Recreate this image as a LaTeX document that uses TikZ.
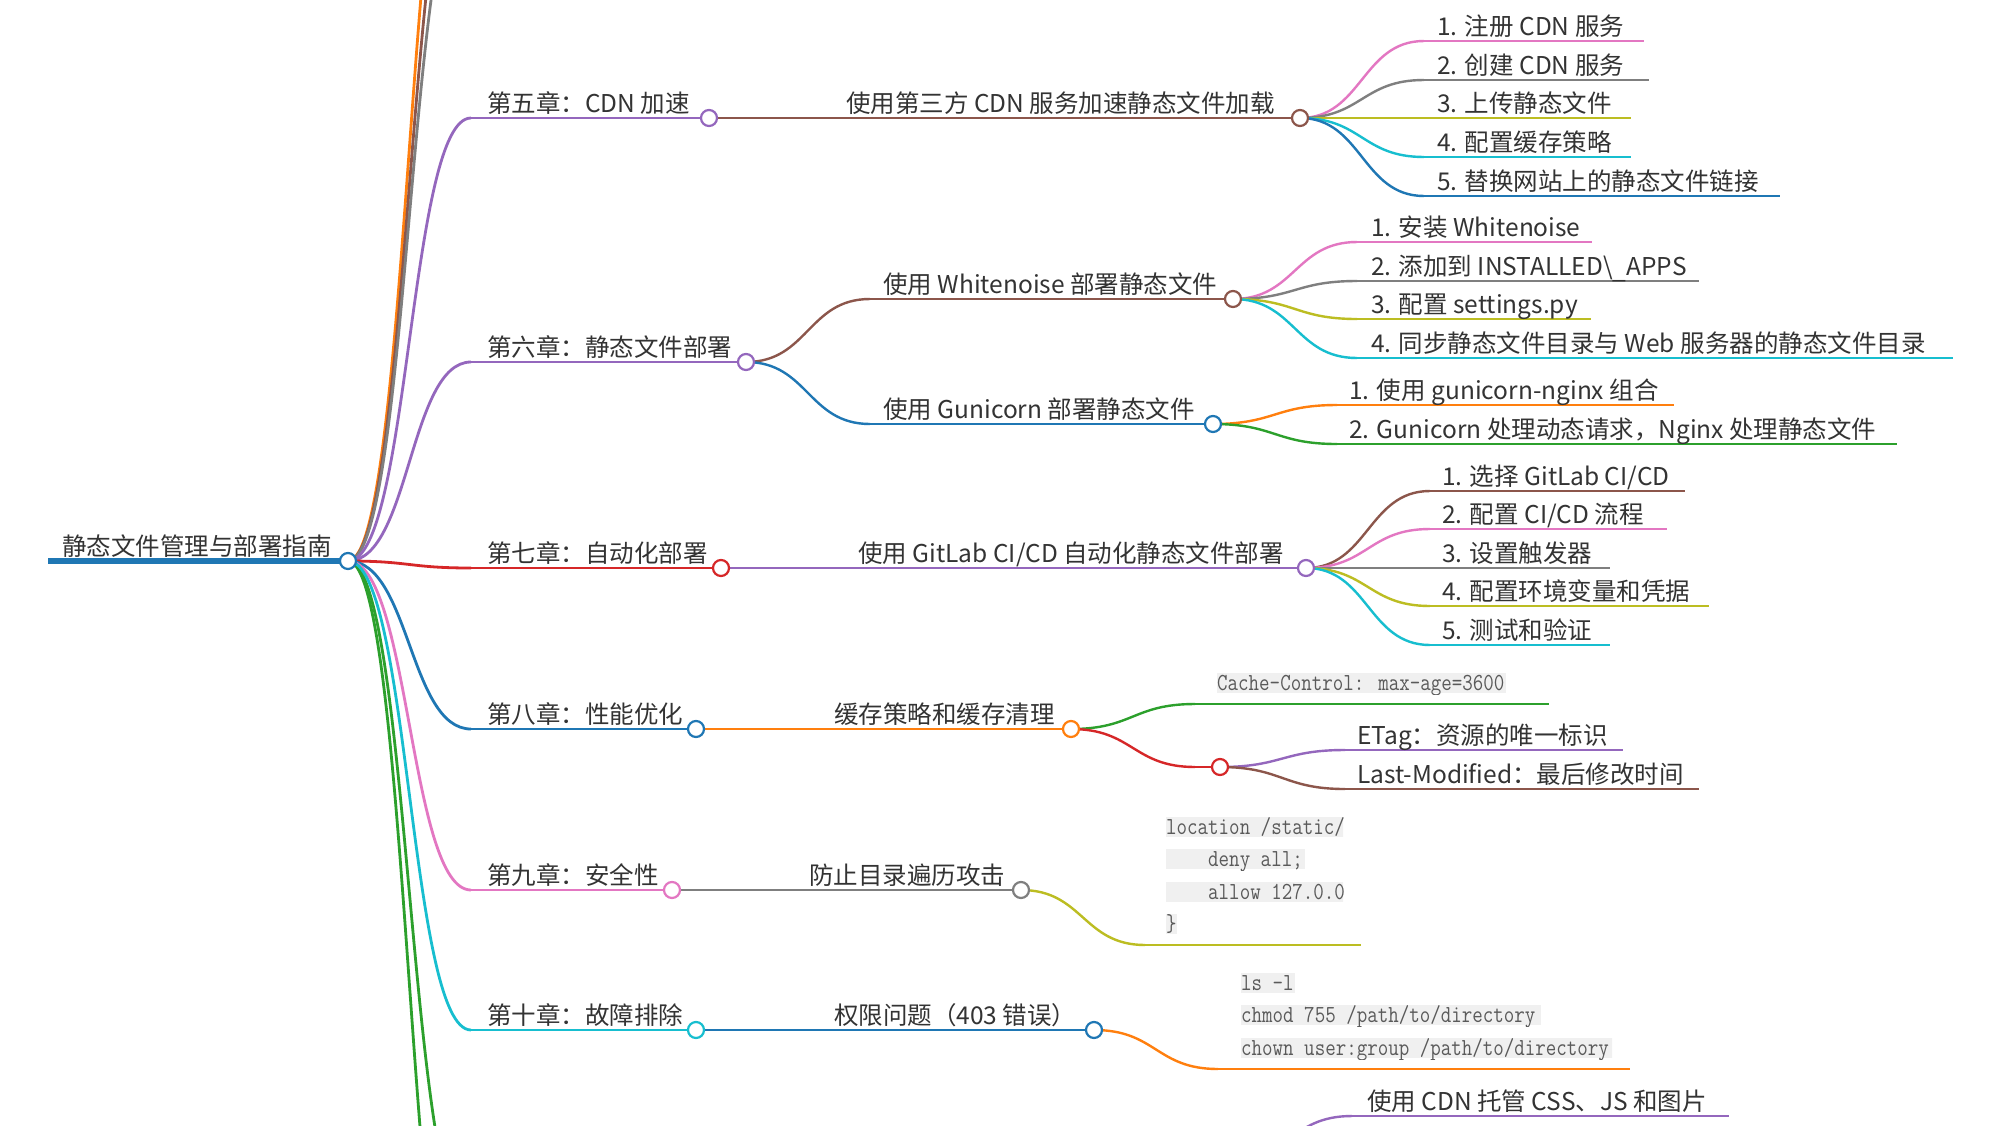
\documentclass[tikz,border=0pt]{standalone}
\usepackage{fontspec}
\usepackage{graphicx}
\setmainfont{Noto Sans CJK SC}
\definecolor{cblue}{HTML}{1F77B4}
\definecolor{corange}{HTML}{FF7F0E}
\definecolor{cgreen}{HTML}{2CA02C}
\definecolor{cred}{HTML}{D62728}
\definecolor{cpurple}{HTML}{9467BD}
\definecolor{cbrown}{HTML}{8C564B}
\definecolor{cpink}{HTML}{E377C2}
\definecolor{cgray}{HTML}{7F7F7F}
\definecolor{colive}{HTML}{BCBD22}
\definecolor{ccyan}{HTML}{17BECF}
\definecolor{txt}{HTML}{333333}
\definecolor{codetxt}{HTML}{5A5A5A}
\definecolor{codebg}{HTML}{F0F0F0}
\newcommand{\mainfs}{\fontsize{24.5}{28}\selectfont}
\newcommand{\codefs}{\ttfamily\fontsize{20.4}{24}\selectfont}
\tikzset{
  lkA/.style={draw=#1, line width=2.8pt},
  lkB/.style={draw=#1, line width=2.4pt},
  hl/.style={to path={.. controls +(62,0) and +(-62,0) .. (\tikztotarget)}},
  dot/.style={circle, draw=#1, fill=white, line width=2.2pt, minimum size=16pt, inner sep=0pt},
  lbl/.style={anchor=base west, inner sep=0pt, text=txt, font=\mainfs},
  code/.style={anchor=base west, inner sep=0pt, text=codetxt, font=\codefs},
}
% name, style, colour, y, line start x, text x, end x, text, parent
\newcommand{\mmnode}[9]{%
  \coordinate (#1s) at (#5,#4);
  \coordinate (#1) at (#7,#4);
  \draw[#2=#3] (#9) to[hl] (#1s);
  \draw[#2=#3] (#1s) -- (#1);
  \node[lbl] (#1t) at (#6,#4-6) {#8};
}
% name, x, baseline, nchars, clip right, text
\newcommand{\mmcode}[6]{%
  \begin{scope}
    \clip (#2,#3-17) rectangle (#5,#3+4);
    \fill[codebg] (#2,#3-17) rectangle ({#2+#4*10.7},#3+3);
    \node[code] (#1) at (#2,#3) {\scalebox{1}[1.2]{#6}};
  \end{scope}
}
\begin{document}
\begin{tikzpicture}[x=1pt,y=-1pt]
\useasboundingbox (0,0) rectangle (2000,1125);
\fill[white] (0,0) rectangle (2000,1125);
\begin{scope}
\clip (0,0) rectangle (2000,1125);

% root
\coordinate (root) at (348,561);
\coordinate (roots) at (48,561);
\draw[draw=cblue, line width=6pt] (roots) -- (root);
\node[lbl] (roott) at (62,555) {静态文件管理与部署指南};

% chapters outside the view
\coordinate (chAs) at (471,-268);
\coordinate (chBs) at (471,-192);
\coordinate (chCs) at (471,-132);
\coordinate (chKs) at (471,1227);
\coordinate (chLs) at (471,1410);
\draw[lkA=corange] (root) to[hl] (chAs);
\draw[lkA=cbrown] (root) to[hl] (chBs);
\draw[lkA=cgray] (root) to[hl] (chCs);
\draw[lkA=cgreen] (root) to[hl] (chKs);
\draw[lkA=cgreen] (root) to[hl] (chLs);

% chapters
\mmnode{chV}{lkA}{cpurple}{118}{471}{487}{709}{第五章：CDN 加速}{root}
\mmnode{chVI}{lkA}{cpurple}{362}{471}{487}{746}{第六章：静态文件部署}{root}
\mmnode{chVII}{lkA}{cred}{568}{471}{487}{721}{第七章：自动化部署}{root}
\mmnode{chVIII}{lkA}{cblue}{729}{471}{487}{696}{第八章：性能优化}{root}
\mmnode{chIX}{lkA}{cpink}{890}{471}{487}{672}{第九章：安全性}{root}
\mmnode{chX}{lkA}{ccyan}{1030}{471}{487}{696}{第十章：故障排除}{root}

% level 2
\mmnode{cdn}{lkB}{cbrown}{118}{833}{846}{1300}{使用第三方 CDN 服务加速静态文件加载}{chV}
\mmnode{wn}{lkB}{cbrown}{299}{870}{883}{1233}{使用 Whitenoise 部署静态文件}{chVI}
\mmnode{gu}{lkB}{cblue}{424}{870}{883}{1213}{使用 Gunicorn 部署静态文件}{chVI}
\mmnode{gl}{lkB}{cpurple}{568}{845}{858}{1306}{使用 GitLab CI/CD 自动化静态文件部署}{chVII}
\mmnode{ca}{lkB}{corange}{729}{820}{834}{1071}{缓存策略和缓存清理}{chVIII}
\mmnode{sec}{lkB}{cgray}{890}{796}{809}{1021}{防止目录遍历攻击}{chIX}
\mmnode{perm}{lkB}{cblue}{1030}{820}{834}{1094}{权限问题（403 错误）}{chX}

% CDN steps
\mmnode{cA}{lkB}{cpink}{41}{1424}{1437}{1644}{1. 注册 CDN 服务}{cdn}
\mmnode{cB}{lkB}{cgray}{80}{1424}{1437}{1649}{2. 创建 CDN 服务}{cdn}
\mmnode{cC}{lkB}{colive}{118}{1424}{1437}{1631}{3. 上传静态文件}{cdn}
\mmnode{cD}{lkB}{ccyan}{157}{1424}{1437}{1631}{4. 配置缓存策略}{cdn}
\mmnode{cE}{lkB}{cblue}{196}{1424}{1437}{1780}{5. 替换网站上的静态文件链接}{cdn}

% Whitenoise steps
\mmnode{wA}{lkB}{cpink}{242}{1357}{1371}{1592}{1. 安装 Whitenoise}{wn}
\mmnode{wB}{lkB}{cgray}{281}{1357}{1371}{1699}{2. 添加到 INSTALLED\textbackslash\raisebox{-3.5pt}{\_}APPS}{wn}
\mmnode{wC}{lkB}{colive}{319}{1357}{1371}{1591}{3. 配置 settings.py}{wn}
\mmnode{wD}{lkB}{ccyan}{358}{1357}{1371}{1953}{4. 同步静态文件目录与 Web 服务器的静态文件目录}{wn}

% Gunicorn steps
\mmnode{gA}{lkB}{corange}{405}{1337}{1349}{1674}{1. 使用 gunicorn-nginx 组合}{gu}
\mmnode{gB}{lkB}{cgreen}{444}{1337}{1349}{1897}{2. Gunicorn 处理动态请求，Nginx 处理静态文件}{gu}

% GitLab steps
\mmnode{lA}{lkB}{cbrown}{491}{1430}{1442}{1685}{1. 选择 GitLab CI/CD}{gl}
\mmnode{lB}{lkB}{cpink}{529}{1430}{1442}{1667}{2. 配置 CI/CD 流程}{gl}
\mmnode{lC}{lkB}{cgray}{568}{1430}{1442}{1610}{3. 设置触发器}{gl}
\mmnode{lD}{lkB}{colive}{606}{1430}{1442}{1709}{4. 配置环境变量和凭据}{gl}
\mmnode{lE}{lkB}{ccyan}{645}{1430}{1442}{1610}{5. 测试和验证}{gl}

% cache children
\coordinate (ccs) at (1195,704);
\coordinate (cce) at (1549,704);
\draw[lkB=cgreen] (ca) to[hl] (ccs);
\draw[lkB=cgreen] (ccs) -- (cce);
\mmcode{cc}{1217}{690}{27}{1560}{Cache-Control: max-age=3600}

\coordinate (rns) at (1195,767);
\coordinate (rn) at (1220,767);
\draw[lkB=cred] (ca) to[hl] (rns);
\draw[lkB=cred] (rns) -- (rn);
\mmnode{etag}{lkB}{cpurple}{750}{1345}{1357}{1623}{ETag：资源的唯一标识}{rn}
\mmnode{lm}{lkB}{cbrown}{789}{1345}{1357}{1699}{Last-Modified：最后修改时间}{rn}

% security child
\coordinate (locs) at (1145,945);
\coordinate (loce) at (1361,945);
\draw[lkB=colive] (sec) to[hl] (locs);
\draw[lkB=colive] (locs) -- (loce);
\mmcode{locA}{1166}{834}{19}{1343}{location /static/ \{}
\mmcode{locB}{1166}{866}{13}{1343}{\hphantom{xxxx}deny all;}
\mmcode{locC}{1166}{899}{20}{1343}{\hphantom{xxxx}allow 127.0.0.1;}
\mmcode{locD}{1166}{931}{1}{1343}{\}}

% permission child
\coordinate (shs) at (1218,1069);
\coordinate (she) at (1630,1069);
\draw[lkB=corange] (perm) to[hl] (shs);
\draw[lkB=corange] (shs) -- (she);
\mmcode{shA}{1241}{990}{5}{1612}{ls -l}
\mmcode{shB}{1241}{1022}{28}{1612}{chmod 755 /path/to/directory}
\mmcode{shC}{1241}{1055}{35}{1612}{chown user:group /path/to/directory}

% partly visible branch at the bottom
\coordinate (hostp) at (1228,1160);
\mmnode{host}{lkB}{cpurple}{1116}{1352}{1367}{1729}{使用 CDN 托管 CSS、JS 和图片}{hostp}

% circles
\node[dot=cblue] (rooto) at (root) {};
\node[dot=cpurple] (chVo) at (chV) {};
\node[dot=cpurple] (chVIo) at (chVI) {};
\node[dot=cred] (chVIIo) at (chVII) {};
\node[dot=cblue] (chVIIIo) at (chVIII) {};
\node[dot=cpink] (chIXo) at (chIX) {};
\node[dot=ccyan] (chXo) at (chX) {};
\node[dot=cbrown] (cdno) at (cdn) {};
\node[dot=cbrown] (wno) at (wn) {};
\node[dot=cblue] (guo) at (gu) {};
\node[dot=cpurple] (glo) at (gl) {};
\node[dot=corange] (cao) at (ca) {};
\node[dot=cgray] (seco) at (sec) {};
\node[dot=cblue] (permo) at (perm) {};
\node[dot=cred] (rno) at (rn) {};
\end{scope}
\end{tikzpicture}
\end{document}
